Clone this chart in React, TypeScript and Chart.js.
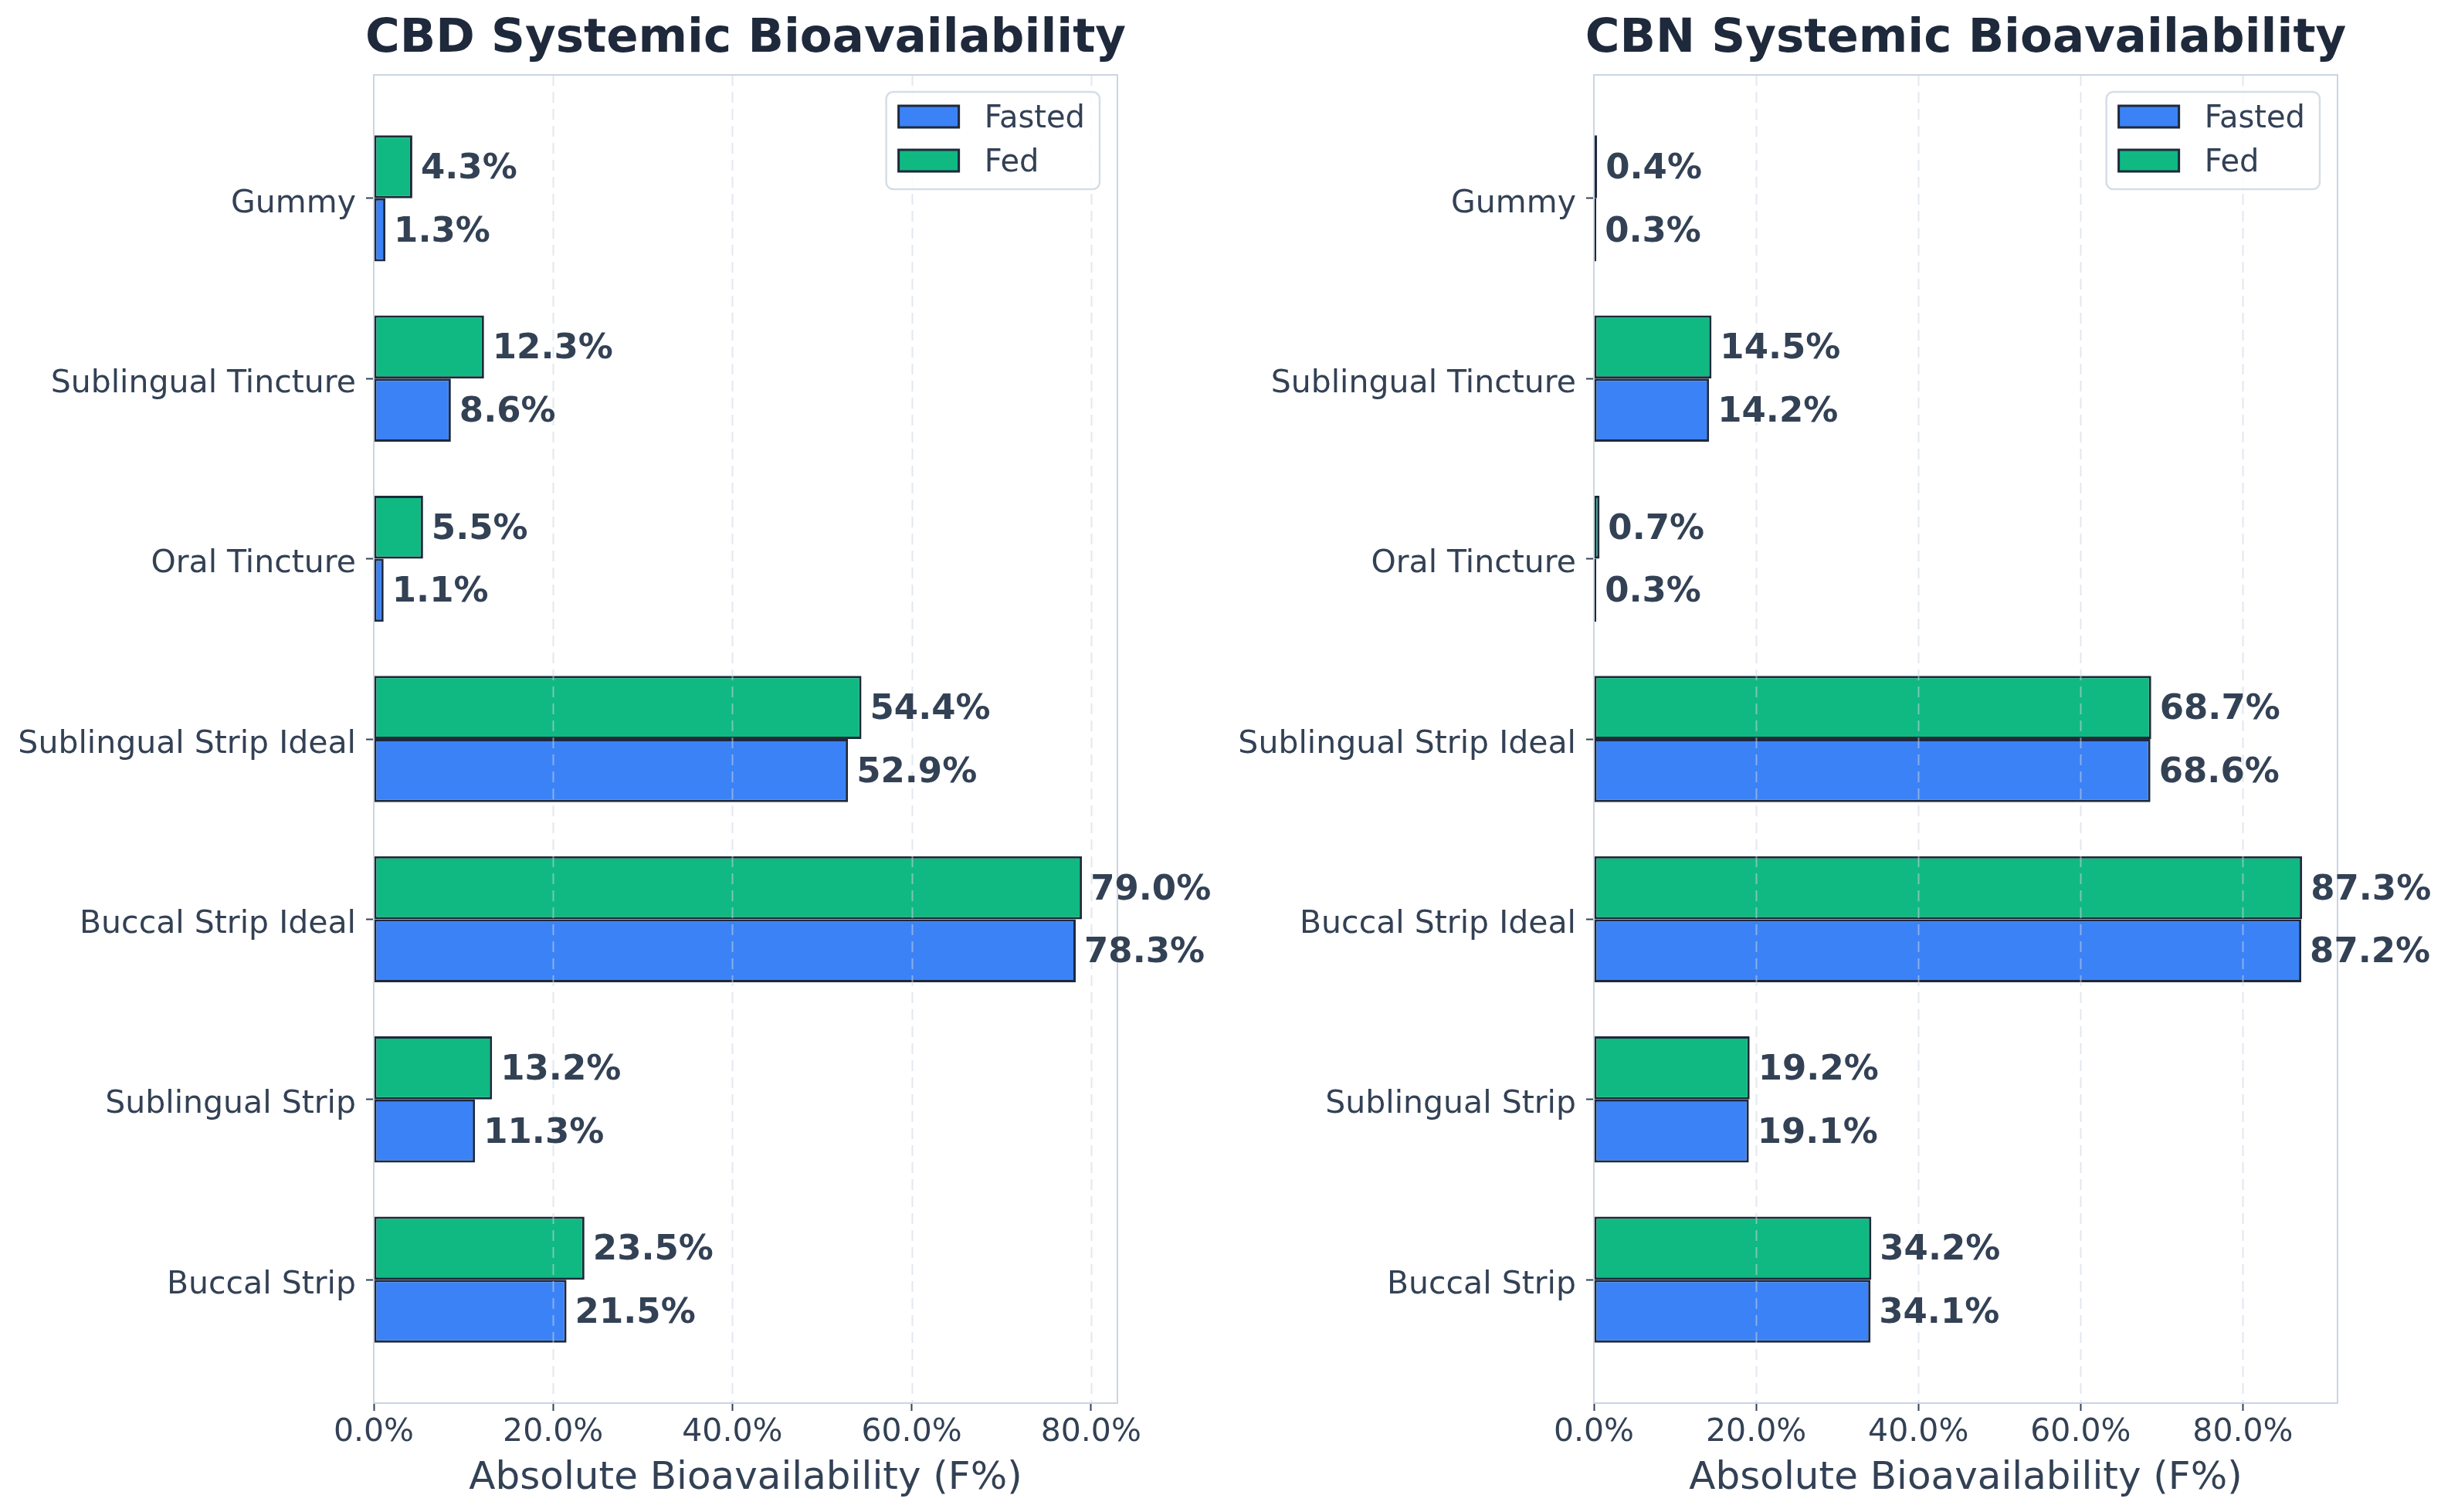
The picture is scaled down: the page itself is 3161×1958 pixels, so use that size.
import React, { useEffect, useRef } from "react";
import { Chart, registerables } from "chart.js";

Chart.register(...registerables);

const categories = [
  "Gummy",
  "Sublingual Tincture",
  "Oral Tincture",
  "Sublingual Strip Ideal",
  "Buccal Strip Ideal",
  "Sublingual Strip",
  "Buccal Strip",
];
const cbdFasted = [1.3, 8.6, 1.1, 52.9, 78.3, 11.3, 21.5];
const cbdFed = [4.3, 12.3, 5.5, 54.4, 79.0, 13.2, 23.5];
const cbnFasted = [0.3, 14.2, 0.3, 68.6, 87.2, 19.1, 34.1];
const cbnFed = [0.4, 14.5, 0.7, 68.7, 87.3, 19.2, 34.2];
const xTickValues = [0, 20, 40, 60, 80];
const seriesNames = ["Fasted", "Fed"];

const FASTED = "#3b82f6";
const FED = "#10b981";
const EDGE = "#1e293b";
const TEXT = "#334155";
const FONT = '"DejaVu Sans", sans-serif';

const decorPlugin = {
  id: "decor",
  afterDatasetsDraw(chart: any, _args: any, opts: any) {
    const { ctx, chartArea: a, scales } = chart;
    const x = scales.x;
    ctx.save();
    // dashed grid over bars
    ctx.strokeStyle = "rgba(203,213,225,0.55)";
    ctx.lineWidth = 2;
    ctx.setLineDash([14, 8]);
    xTickValues.forEach((t) => {
      if (t <= 0) return;
      const px = Math.round(x.getPixelForValue(t)) + 0.5;
      ctx.beginPath();
      ctx.moveTo(px, a.top);
      ctx.lineTo(px, a.bottom);
      ctx.stroke();
    });
    ctx.setLineDash([]);
    // spines
    ctx.strokeStyle = "#cbd5e1";
    ctx.lineWidth = 2;
    ctx.strokeRect(a.left, a.top, a.right - a.left, a.bottom - a.top);
    // bar value labels
    ctx.fillStyle = TEXT;
    ctx.font = `bold 45px ${FONT}`;
    ctx.textAlign = "left";
    ctx.textBaseline = "alphabetic";
    chart.data.datasets.forEach((ds: any, di: number) => {
      const meta = chart.getDatasetMeta(di);
      meta.data.forEach((bar: any, i: number) => {
        const v = ds.data[i].x;
        ctx.fillText(v.toFixed(1) + "%", bar.x + 11, bar.y + 15);
      });
    });
    // legend
    ctx.font = `40px ${FONT}`;
    const tw = Math.max(...seriesNames.map((n) => ctx.measureText(n).width));
    const lw = 127 + tw + 19;
    const lh = 126;
    const lx = a.right - 23 - lw;
    const ly = a.top + 22;
    ctx.fillStyle = "rgba(255,255,255,0.9)";
    ctx.strokeStyle = "#d5dde8";
    ctx.lineWidth = 2.5;
    ctx.beginPath();
    (ctx as any).roundRect(lx, ly, lw, lh, 9);
    ctx.fill();
    ctx.stroke();
    const colors = [FASTED, FED];
    seriesNames.forEach((n, i) => {
      const cy = ly + 32 + i * 57;
      ctx.fillStyle = colors[i];
      ctx.fillRect(lx + 16, cy - 14, 78, 28);
      ctx.strokeStyle = EDGE;
      ctx.lineWidth = 3;
      ctx.strokeRect(lx + 16, cy - 14, 78, 28);
      ctx.fillStyle = TEXT;
      ctx.fillText(n, lx + 127, cy + 14);
    });
    // title
    const cx = (a.left + a.right) / 2;
    ctx.textAlign = "center";
    ctx.fillStyle = "#1e293b";
    ctx.font = `bold 61px ${FONT}`;
    ctx.fillText(opts.title, cx, 67);
    // axis title
    ctx.fillStyle = TEXT;
    ctx.font = `50px ${FONT}`;
    ctx.fillText("Absolute Bioavailability (F%)", cx, 1928);
    ctx.restore();
  },
};

function Panel({ title, fasted, fed, left, width }: any) {
  const ref = useRef<HTMLCanvasElement | null>(null);
  useEffect(() => {
    if (!ref.current) return;
    const xMax = Math.max(...fasted, ...fed) * 1.05;
    const chart = new Chart(ref.current, {
      type: "bar",
      data: {
        datasets: [
          {
            label: "Fed",
            data: fed.map((v: number, i: number) => ({ x: v, y: i })),
            backgroundColor: FED,
            borderColor: EDGE,
            borderWidth: 3,
            borderSkipped: false,
          },
          {
            label: "Fasted",
            data: fasted.map((v: number, i: number) => ({ x: v, y: i })),
            backgroundColor: FASTED,
            borderColor: EDGE,
            borderWidth: 3,
            borderSkipped: false,
          },
        ],
      } as any,
      options: {
        indexAxis: "y",
        responsive: false,
        animation: false,
        devicePixelRatio: 1,
        layout: { padding: { top: 97, right: width - 1447, bottom: 0, left: 0 } },
        datasets: { bar: { categoryPercentage: 0.7, barPercentage: 1 } },
        plugins: {
          legend: { display: false },
          title: { display: false },
          tooltip: { enabled: false },
          decor: { title },
        } as any,
        scales: {
          x: {
            type: "linear",
            min: 0,
            max: xMax,
            offset: false,
            afterBuildTicks: (s: any) => {
              s.ticks = xTickValues.map((v) => ({ value: v }));
            },
            afterFit: (s: any) => {
              s.height = 141;
            },
            ticks: {
              callback: (v: any) => Number(v).toFixed(1) + "%",
              font: { family: FONT, size: 41 },
              color: TEXT,
              padding: 4,
              maxRotation: 0,
              autoSkip: false,
            },
            grid: {
              display: true,
              offset: false,
              drawOnChartArea: false,
              drawTicks: true,
              tickLength: 10,
              tickColor: TEXT,
              tickWidth: 2,
            },
            border: { display: false },
          },
          y: {
            type: "linear",
            min: -0.685,
            max: 6.685,
            reverse: true,
            offset: false,
            afterBuildTicks: (s: any) => {
              s.ticks = categories.map((_, i) => ({ value: i }));
            },
            afterFit: (s: any) => {
              s.width = 484;
            },
            ticks: {
              callback: (v: any) => categories[v],
              font: { family: FONT, size: 41 },
              color: TEXT,
              padding: 13,
              labelOffset: 7,
              autoSkip: false,
            },
            grid: {
              display: true,
              offset: false,
              drawOnChartArea: false,
              drawTicks: true,
              tickLength: 10,
              tickColor: TEXT,
              tickWidth: 2,
            },
            border: { display: false },
          },
        },
      } as any,
      plugins: [decorPlugin],
    });
    return () => chart.destroy();
  }, []);
  return (
    <canvas
      ref={ref}
      width={width}
      height={1958}
      style={{ position: "absolute", left, top: 0, width, height: 1958 }}
    />
  );
}

export default function App() {
  return (
    <div
      style={{
        position: "fixed",
        left: 0,
        top: 0,
        width: 3161,
        height: 1958,
        background: "#ffffff",
        overflow: "hidden",
      }}
    >
      <Panel title="CBD Systemic Bioavailability" fasted={cbdFasted} fed={cbdFed} left={0} width={1580} />
      <Panel title="CBN Systemic Bioavailability" fasted={cbnFasted} fed={cbnFed} left={1580} width={1581} />
    </div>
  );
}
